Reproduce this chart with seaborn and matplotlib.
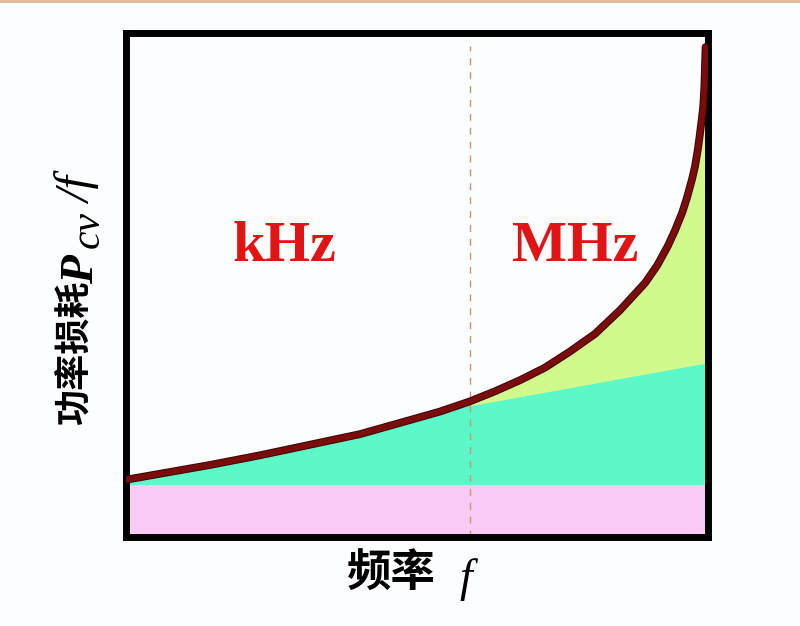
import numpy as np
import pandas as pd
import matplotlib
matplotlib.use("Agg")
import matplotlib.pyplot as plt
import matplotlib.patheffects as pe
from matplotlib.lines import Line2D
import seaborn as sns

# ---- data (arbitrary normalised units) ----
freq = [0.0, 0.6, 7.5, 14.4, 22.9, 31.5, 40.1, 48.7, 53.9, 59.0, 63.3, 67.6,
        71.9, 76.2, 80.5, 84.8, 89.1, 91.2, 93.0, 94.2, 95.5, 96.3, 97.2,
        97.7, 98.2, 98.5, 98.9, 99.1, 99.3, 99.5]
total_loss = [11.5, 11.6, 13.0, 14.4, 16.3, 18.4, 20.5, 23.3, 25.0, 27.0, 29.0, 31.2,
              33.7, 36.9, 40.4, 45.1, 50.5, 54.0, 57.8, 60.8, 64.5, 67.4, 71.2,
              73.7, 77.2, 79.8, 83.5, 85.5, 89.5, 97.3]
hysteresis_level = 10.4          # top of pink band
eddy_freq = [59.0, 100.0]        # teal / yellow boundary in MHz range
eddy_top = [26.0, 34.6]
boundary_freq = 59.0             # kHz | MHz divider
region_labels = ["kHz", "MHz"]

df = pd.DataFrame({"freq": freq, "loss": total_loss})

sns.set_theme(style="white")
plt.rcParams["font.family"] = ["Noto Sans CJK SC", "DejaVu Sans"]

W, H = 800, 626
fig = plt.figure(figsize=(8.0, 6.26), dpi=100, facecolor="#FCFDFE")
ax = fig.add_axes([0.1581, 0.1414, 0.7275, 0.8051])
ax.set_facecolor("#FCFDFE")
ax.set_xlim(0, 100)
ax.set_ylim(0, 100)

# pink band
ax.fill_between([0, 100], 0, hysteresis_level, color="#F8CBF7", lw=0, zorder=1)

# teal region
teal_pts = [(f, l) for f, l in zip(freq, total_loss) if f <= boundary_freq]
teal_pts += [(eddy_freq[1], eddy_top[1]), (100, hysteresis_level), (0, hysteresis_level)]
tx, ty = zip(*teal_pts)
ax.fill(tx, ty, color="#5CF8C8", lw=0, zorder=1)

# yellow-green region
yel_pts = [(f, l) for f, l in zip(freq, total_loss) if f >= boundary_freq]
yel_pts += [(100, total_loss[-1]), (eddy_freq[1], eddy_top[1]), (eddy_freq[0], eddy_top[0])]
yx, yy = zip(*yel_pts)
ax.fill(yx, yy, color="#D0FB8C", lw=0, zorder=1)

# divider
ax.axvline(boundary_freq, ymin=0, ymax=0.976, color="#C4986A", lw=1.0,
           dashes=(5, 5), zorder=2)

# total loss curve
sns.lineplot(data=df, x="freq", y="loss", ax=ax, sort=False, estimator=None,
             color="#7A0C0C", lw=4.2, zorder=4, solid_capstyle="round",
             solid_joinstyle="round",
             path_effects=[pe.Stroke(linewidth=5.6, foreground="#3A0404"), pe.Normal()])

# region labels
for lab, xpos in zip(region_labels, [27.1, 77.1]):
    ax.text(xpos, 54.8, lab, ha="center", va="baseline", color="#E01414",
            fontsize=42, fontweight="bold", family=["Liberation Serif"], zorder=5)

ax.set_xticks([])
ax.set_yticks([])
ax.set_xlabel("")
ax.set_ylabel("")
for s in ax.spines.values():
    s.set_visible(True)
    s.set_color("black")
    s.set_linewidth(5.0)

# x axis title
fig.text(391 / W, 1 - 573 / H, "频率", fontsize=32, fontweight="bold",
         color="black", ha="center", va="center")
fig.text(466 / W, 1 - 580 / H, "f", fontsize=33, style="italic",
         family=["Liberation Serif"], color="black", ha="center", va="center")

# y axis title (Chinese part + italic serif symbol parts stacked upward)
fig.text(74 / W, 1 - 353 / H, "功率损耗", fontsize=26, fontweight="bold",
         color="black", rotation=90, ha="center", va="center")

renderer = fig.canvas.get_renderer()
pieces = [("P", 34, "bold", 82), ("cv", 30, "normal", 88), ("/f", 35, "normal", 79)]
y_px = H - 284  # display coordinates (origin bottom-left)
for txt, size, weight, xc in pieces:
    t = fig.text(xc / W, y_px / H, txt, fontsize=size, style="italic",
                 fontweight=weight, family=["Liberation Serif"], color="black",
                 rotation=90, ha="center", va="bottom")
    bb = t.get_window_extent(renderer=renderer)
    y_px = bb.y1 + 7

fig.add_artist(Line2D([0, 1], [0.998, 0.998], transform=fig.transFigure,
                      color="#DDB88E", lw=2))

fig.savefig("out.png", dpi=100, facecolor=fig.get_facecolor())
